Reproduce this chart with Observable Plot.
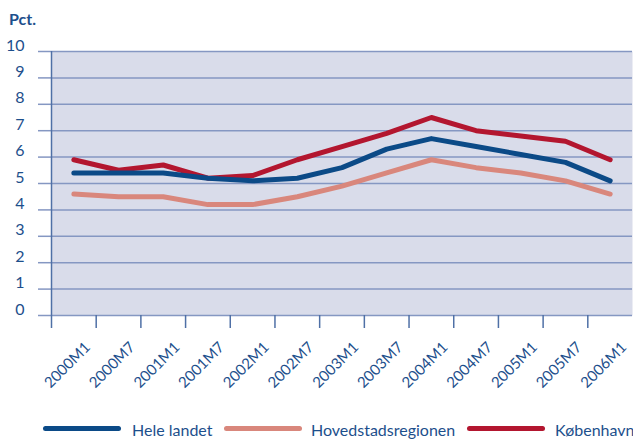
<!DOCTYPE html>
<html>
<head>
<meta charset="utf-8">
<script src="https://cdn.jsdelivr.net/npm/d3@7"></script>
<script src="https://cdn.jsdelivr.net/npm/@observablehq/plot@0.6"></script>
<style>
  html, body { margin: 0; padding: 0; background: #fff; }
  #wrap { position: relative; width: 633px; height: 442px; overflow: hidden; font-family: Lato, "Open Sans", sans-serif; color: #1d4f8c; }
  #title { position: absolute; left: 9px; top: 9px; font-size: 16px; font-weight: bold; }
  .sw { position: absolute; height: 5px; border-radius: 3px; top: 426px; }
  .lab { position: absolute; top: 420px; font-size: 16px; white-space: nowrap; }
</style>
</head>
<body>
<div id="wrap">
  <div id="chart"></div>
  <div id="title">Pct.</div>
  <div id="legend"></div>
</div>
<script>
const categories = ["2000M1","2000M7","2001M1","2001M7","2002M1","2002M7","2003M1","2003M7","2004M1","2004M7","2005M1","2005M7","2006M1"];
const heleLandet = [5.4,5.4,5.4,5.2,5.1,5.2,5.6,6.3,6.7,6.4,6.1,5.8,5.1];
const hovedstadsregionen = [4.6,4.5,4.5,4.2,4.2,4.5,4.9,5.4,5.9,5.6,5.4,5.1,4.6];
const kobenhavn = [5.9,5.5,5.7,5.2,5.3,5.9,6.4,6.9,7.5,7.0,6.8,6.6,5.9];
const yTicks = [0,1,2,3,4,5,6,7,8,9,10];
const seriesNames = ["Hele landet","Hovedstadsregionen","København"];
const seriesColors = ["#0b4a87","#d9877c","#b3162f"];

const textColor = "#1d4f8c";
const gridColor = "#8597c2";

const rows = (vals, name) => vals.map((v, i) => ({i, cat: categories[i], v, name}));
const dHele = rows(heleLandet, seriesNames[0]);
const dHov = rows(hovedstadsregionen, seriesNames[1]);
const dKbh = rows(kobenhavn, seriesNames[2]);
const xTicks = categories.map((c, i) => i);

const plot = Plot.plot({
  width: 633,
  height: 442,
  marginTop: 51,
  marginBottom: 127,
  marginLeft: 51,
  marginRight: 1,
  style: {fontFamily: "Lato, 'Open Sans', sans-serif", fontSize: "15px", background: "transparent"},
  x: {type: "linear", domain: [0, categories.length], axis: null},
  y: {domain: [0, 10], axis: null},
  marks: [
    Plot.frame({fill: "#d9dcea", stroke: null}),
    Plot.gridY(yTicks, {stroke: gridColor, strokeOpacity: 1, strokeWidth: 1.5}),
    Plot.axisY(yTicks, {tickSize: 13, tickFormat: () => "", label: null, stroke: gridColor, strokeWidth: 1.5, color: gridColor}),
    Plot.axisY(yTicks, {tickSize: 0, tickPadding: 27, dy: -6, label: null, color: textColor, fontSize: 16}),
    Plot.axisX(xTicks, {anchor: "bottom", tickSize: 13, tickFormat: () => "", label: null, color: "#4f70a6", strokeWidth: 1.5}),
    Plot.ruleX([0], {stroke: "#4f70a6", strokeWidth: 1.5}),
    Plot.text(categories, {x: (d, i) => i + 0.5, frameAnchor: "bottom", dx: -3, dy: 53, rotate: -45, textAnchor: "middle", fill: textColor, fontSize: 15}),
    Plot.line(dHov, {x: d => d.i + 0.5, y: "v", stroke: seriesColors[1], strokeWidth: 5, strokeLinecap: "round", strokeLinejoin: "round"}),
    Plot.line(dKbh, {x: d => d.i + 0.5, y: "v", stroke: seriesColors[2], strokeWidth: 5, strokeLinecap: "round", strokeLinejoin: "round"}),
    Plot.line(dHele, {x: d => d.i + 0.5, y: "v", stroke: seriesColors[0], strokeWidth: 5, strokeLinecap: "round", strokeLinejoin: "round"})
  ]
});
document.getElementById("chart").appendChild(plot);

// legend
const legendPos = [{sw: 43, tx: 132}, {sw: 224, tx: 311}, {sw: 467, tx: 555}];
const legend = document.getElementById("legend");
seriesNames.forEach((n, k) => {
  const s = document.createElement("div");
  s.className = "sw";
  s.style.left = legendPos[k].sw + "px";
  s.style.width = "78px";
  s.style.background = seriesColors[k];
  legend.appendChild(s);
  const t = document.createElement("div");
  t.className = "lab";
  t.style.left = legendPos[k].tx + "px";
  t.textContent = n;
  legend.appendChild(t);
});
</script>
</body>
</html>
